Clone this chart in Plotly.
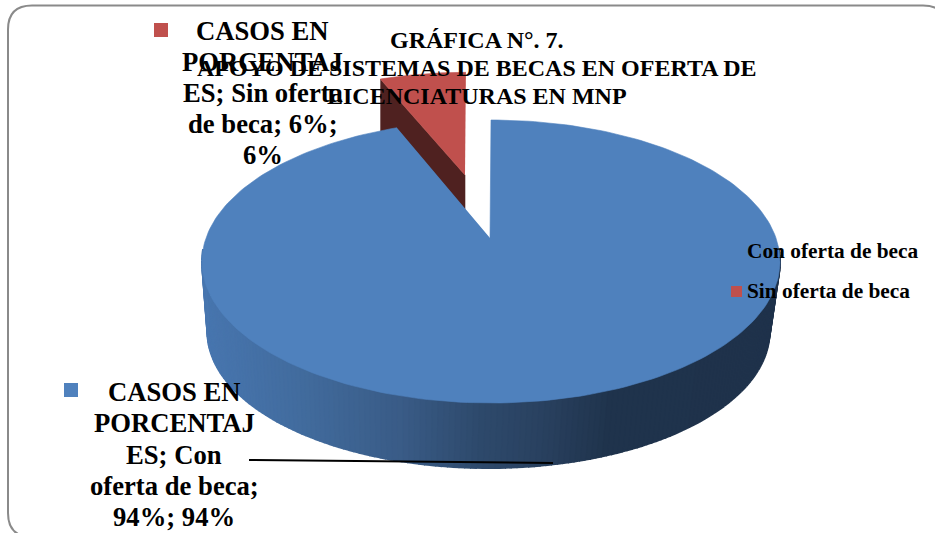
import numpy as np
import plotly.graph_objects as go

# ---- data ----
categories = ["Con oferta de beca", "Sin oferta de beca"]
values = [94, 6]
title_lines = ["GRÁFICA N°. 7.", "APOYO DE SISTEMAS DE BECAS EN OFERTA DE", "LICENCIATURAS EN MNP"]
label_sin = ["CASOS EN", "PORCENTAJ", "ES; Sin oferta", "de beca; {v}%;", "{v}%"]
label_con = ["CASOS EN", "PORCENTAJ", "ES; Con", "oferta de beca;", "{v}%; {v}%"]

# ---- style / geometry ----
W, H = 935, 533
BLUE, RED, RED_DARK = "#4F81BD", "#C0504D", "#4F2120"
SERIF = "Liberation Serif"
CX, CY, RX, RY = 491, 261.5, 289, 141.5          # top rim ellipse
BCX, BCY, BRX, BRY = 488.5, 332, 281, 136        # bottom rim ellipse
APEX = (490, 238)                                # pie centre seen in perspective
PERSP = 0.877
RED_APEX = (465, 175)
RED_SX, RED_SY = 0.91, 0.87
WALL = 60


def persp(theta):
    return 2 * np.arctan2(PERSP * np.sin(theta / 2), np.cos(theta / 2))


def rim(theta):
    t = persp(theta)
    return CX + RX * np.sin(t), CY - RY * np.cos(t)


# slice angles come from the values, clockwise from twelve o'clock
total = sum(values)
a0 = 0.0
a1 = 2 * np.pi * values[0] / total
a2 = 2 * np.pi

fig = go.Figure()


def poly(x, y, color, name=None, width=0.6):
    fig.add_trace(go.Scatter(x=list(x), y=list(y), mode="lines", fill="toself",
                             fillcolor=color, line=dict(width=width, color=color),
                             showlegend=False, name=name or "",
                             hoverinfo="name" if name else "skip"))


# red slice: inner wall, then top face
th = np.linspace(a1, a2, 30)
rx, ry = rim(th)
red_x = RED_APEX[0] + RED_SX * (rx - APEX[0])
red_y = RED_APEX[1] + RED_SY * (ry - APEX[1])
poly([red_x[0], RED_APEX[0], RED_APEX[0], red_x[0]],
     [red_y[0], RED_APEX[1], RED_APEX[1] + WALL, red_y[0] + WALL], RED_DARK)
poly(np.r_[RED_APEX[0], red_x], np.r_[RED_APEX[1], red_y], RED, categories[1])

# blue slice: shaded rim wall, strip by strip, then top face
stops_x = [205, 300, 400, 480, 540, 610, 780]
stops_rgb = np.array([[72, 118, 175], [66, 108, 158], [58, 92, 135], [46, 74, 108],
                      [42, 66, 97], [32, 52, 77], [31, 50, 75]])
edges = np.radians(np.linspace(85, 275, 161))
for t1, t2 in zip(edges[:-1], edges[1:]):
    xs = [CX + RX * np.sin(t1), CX + RX * np.sin(t2), BCX + BRX * np.sin(t2), BCX + BRX * np.sin(t1)]
    ys = [CY - RY * np.cos(t1), CY - RY * np.cos(t2), BCY - BRY * np.cos(t2), BCY - BRY * np.cos(t1)]
    xm = (CX + RX * np.sin((t1 + t2) / 2))
    c = [int(np.interp(xm, stops_x, stops_rgb[:, i])) for i in range(3)]
    poly(xs, ys, f"rgb({c[0]},{c[1]},{c[2]})", width=2)

th = np.linspace(a0, a1, 240)
bx, by = rim(th)
poly(np.r_[APEX[0], bx], np.r_[APEX[1], by], BLUE, categories[0])

# leader line of the lower label
fig.add_trace(go.Scatter(x=[249, 553], y=[460, 463], mode="lines", line=dict(color="black", width=2),
                         showlegend=False, hoverinfo="skip"))

# square keys: data-label keys and legend keys
fig.add_trace(go.Scatter(x=[71, 161, 736.5, 736.5], y=[390, 30, 251.5, 291.5], mode="markers",
                         marker=dict(symbol="square", size=[14, 14, 11, 11], opacity=1,
                                     color=[BLUE, RED, BLUE, RED], line=dict(width=0)),
                         showlegend=False, hoverinfo="skip"))


def text(x, y, s, size, anchor="center"):
    fig.add_annotation(x=x, y=y, text=f"<b>{s}</b>", showarrow=False, xanchor=anchor, yanchor="middle",
                       font=dict(family=SERIF, size=size, color="black"), xref="x", yref="y")


# title
for yy, line in zip([40, 68, 96], title_lines):
    text(476.5, yy, line, 24)

# data labels
for yy, line in zip([31, 62, 93, 124, 155], label_sin):
    text(262.5, yy, line.format(v=values[1]), 26.67)
for yy, line in zip([392, 423, 455, 486, 517], label_con):
    text(174, yy, line.format(v=values[0]), 26.67)

# legend text
for yy, cat in zip([251, 291], categories):
    text(745, yy, cat, 21.33, "left")

# rounded frame, running past the right and bottom of the picture
x0, y0, x1, y1, r = 8, 5.5, 947, 537, 24
frame = (f"M{x0 + r},{y0} L{x1 - r},{y0} Q{x1},{y0} {x1},{y0 + r} L{x1},{y1 - r} Q{x1},{y1} {x1 - r},{y1} "
         f"L{x0 + r},{y1} Q{x0},{y1} {x0},{y1 - r} L{x0},{y0 + r} Q{x0},{y0} {x0 + r},{y0} Z")
fig.add_shape(type="path", path=frame, xref="x", yref="y", line=dict(color="#8A8A8A", width=2), layer="below")

fig.update_layout(width=W, height=H, margin=dict(l=0, r=0, t=0, b=0), paper_bgcolor="white", plot_bgcolor="white",
                  xaxis=dict(range=[0, W], visible=False, fixedrange=True),
                  yaxis=dict(range=[H, 0], visible=False, fixedrange=True),
                  showlegend=False)
fig.write_html("out.html", config={"displayModeBar": False},
               post_script="document.body.style.margin='0';document.body.style.overflow='hidden';")
